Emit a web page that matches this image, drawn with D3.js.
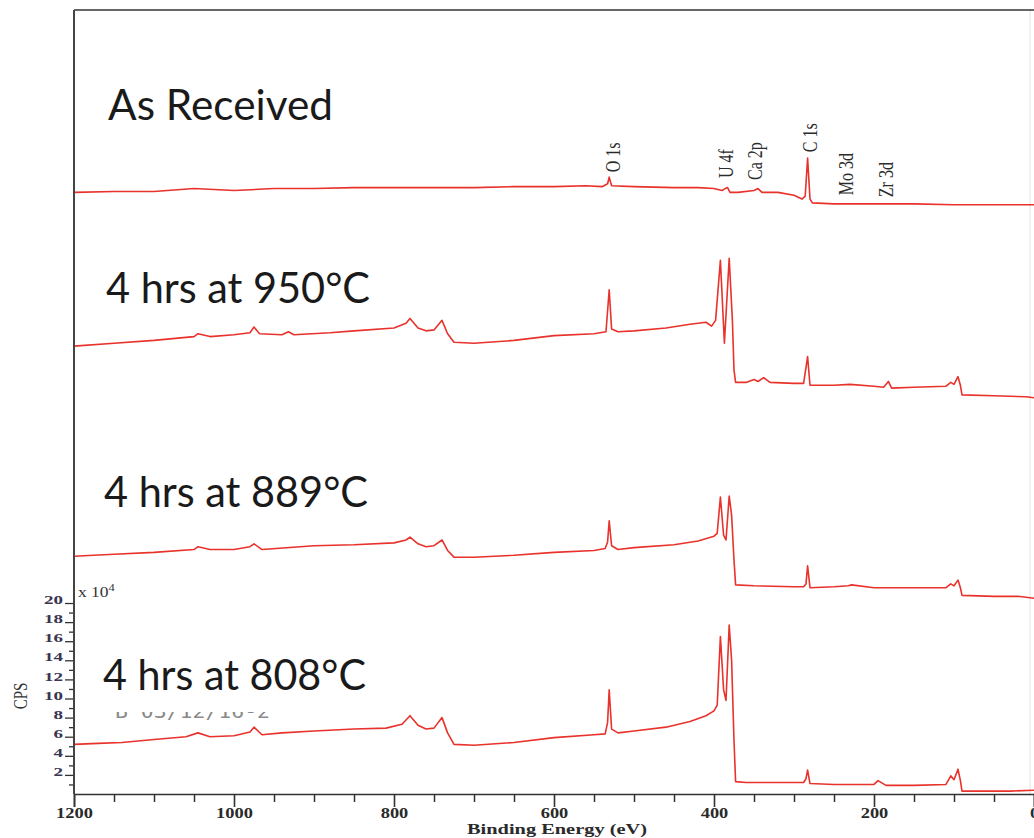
<!DOCTYPE html>
<html>
<head>
<meta charset="utf-8">
<script src="https://cdn.jsdelivr.net/npm/d3@7/dist/d3.min.js"></script>
<style>
  html, body { margin: 0; padding: 0; background: #fff; }
  svg { display: block; }
</style>
</head>
<body>
<svg id="chart" width="1034" height="838"></svg>
<script>
// ---- Data (binding energy in eV, intensity in CPS x 10^4, stacked as shown) ----
const seriesNames = ["As Received", "4 hrs at 950°C", "4 hrs at 889°C", "4 hrs at 808°C"];

const asReceived = [
  [1200,63.0],[1150,63.1],[1100,63.1],[1050,63.4],[1000,63.2],[950,63.4],[900,63.4],
  [850,63.5],[800,63.5],[750,63.5],[700,63.5],[650,63.6],[600,63.6],[560,63.7],[540,63.6],
  [533,63.9],[531,64.6],[528,63.7],[500,63.6],[450,63.5],[420,63.5],[400,63.4],[390,63.2],
  [386,63.4],[383,63.5],[380,63.0],[370,63.0],[350,63.2],[345,63.4],[340,63.0],[320,63.0],
  [300,62.7],[290,62.3],[286,62.6],[283,66.6],[280,62.3],[277,61.9],[250,61.8],[200,61.8],
  [150,61.8],[100,61.7],[50,61.7],[0,61.7]
];

const hrs950 = [
  [1200,46.9],[1150,47.2],[1100,47.5],[1050,47.9],[1045,48.2],[1030,47.9],[1000,48.1],
  [980,48.3],[975,48.9],[968,48.2],[940,48.1],[932,48.4],[925,48.1],[880,48.3],[850,48.5],
  [800,48.8],[785,49.3],[780,49.8],[770,48.8],[760,48.5],[750,48.6],[740,49.6],[733,48.2],
  [725,47.3],[700,47.2],[650,47.5],[600,48.0],[550,48.2],[535,48.4],[531,52.8],[528,48.7],
  [520,48.4],[500,48.5],[460,48.8],[430,49.2],[410,49.4],[403,49.0],[398,49.6],[392,55.9],
  [387,47.2],[381,56.1],[377,49.6],[375,44.4],[373,43.1],[360,43.1],[350,43.4],[345,43.2],
  [338,43.6],[330,43.1],[300,43.0],[288,43.0],[283,45.8],[280,42.8],[250,42.8],[230,42.9],
  [200,42.7],[188,42.6],[182,43.2],[178,42.5],[150,42.6],[110,42.7],[104,43.1],[100,42.9],
  [95,43.7],[92,42.8],[90,41.8],[50,41.7],[10,41.6],[0,41.5]
];

const hrs889 = [
  [1200,24.9],[1150,25.1],[1100,25.3],[1050,25.6],[1045,25.9],[1030,25.6],[1000,25.6],
  [980,25.9],[975,26.2],[965,25.6],[900,26.0],[850,26.1],[800,26.3],[785,26.6],[780,26.9],
  [770,26.2],[760,25.9],[750,26.0],[740,26.6],[733,25.5],[725,24.8],[700,24.8],[650,25.0],
  [600,25.3],[550,25.5],[536,25.7],[533,26.4],[531,28.6],[528,26.0],[520,25.6],[500,25.8],
  [450,26.1],[420,26.5],[400,27.0],[396,27.3],[392,31.1],[388,27.1],[385,26.6],[381,31.2],
  [378,29.2],[375,24.5],[373,21.9],[350,21.8],[300,21.7],[288,21.7],[285,22.0],[283,23.9],
  [280,21.6],[250,21.7],[232,21.8],[228,21.9],[200,21.6],[150,21.6],[110,21.6],[104,22.0],
  [100,21.8],[95,22.4],[92,21.6],[90,20.8],[50,20.7],[20,20.7],[0,20.5]
];

const hrs808 = [
  [1200,5.2],[1170,5.3],[1140,5.4],[1100,5.7],[1060,6.0],[1045,6.4],[1030,6.0],[1000,6.1],
  [980,6.5],[975,7.0],[965,6.2],[940,6.4],[900,6.6],[850,6.8],[810,6.9],[790,7.3],[780,8.2],
  [770,7.2],[760,6.8],[750,6.9],[740,8.0],[733,6.4],[725,5.2],[700,5.1],[650,5.4],[600,5.9],
  [550,6.2],[536,6.3],[533,7.5],[531,10.9],[528,6.8],[520,6.4],[500,6.6],[460,7.0],[430,7.6],
  [410,8.2],[400,8.7],[396,9.3],[392,16.5],[388,10.9],[385,9.8],[381,17.7],[378,14.0],
  [375,5.6],[373,1.3],[360,1.2],[330,1.2],[300,1.2],[288,1.2],[285,1.6],[283,2.5],[280,1.1],
  [250,1.0],[200,1.0],[195,1.4],[185,0.9],[150,0.9],[110,1.0],[104,1.9],[100,1.5],[95,2.6],
  [92,1.4],[90,0.3],[60,0.3],[30,0.3],[0,0.4]
];

const seriesData = [asReceived, hrs950, hrs889, hrs808];

const xMajorTicks = [1200, 1000, 800, 600, 400, 200, 0];
const xMinorTicks = [1150, 1100, 1050, 950, 900, 850, 750, 700, 650, 550, 500, 450, 350, 300, 250, 150, 100, 50];
const yMajorTicks = [2, 4, 6, 8, 10, 12, 14, 16, 18, 20];
const yMinorTicks = [1, 3, 5, 7, 9, 11, 13, 15, 17, 19];

const peakLabels = ["O 1s", "U 4f", "Ca 2p", "C 1s", "Mo 3d", "Zr 3d"];
// label anchor positions (energy of label baseline, intensity where the label starts)
const peakLabelE = [517, 376, 340, 271, 226, 176];
const peakLabelV = [65.1, 64.5, 64.3, 67.2, 62.7, 62.5];

// ---- Layout ----
const svg = d3.select("#chart");
const mLeft = 74, mRight = 1034, mTop = 10, mBottom = 794;
const stretch = 1.25; // horizontal stretch of the instrument-plot lettering

const x = d3.scaleLinear().domain([1200, 0]).range([mLeft, mRight]);
const y = d3.scaleLinear().domain([0, 82.1]).range([mBottom, mTop]);

svg.append("rect").attr("width", 1034).attr("height", 838).attr("fill", "#fff");

// frame
svg.append("line").attr("x1", 1030).attr("x2", 1030).attr("y1", mTop).attr("y2", mBottom)
  .attr("stroke", "#e4e4e4").attr("stroke-width", 1);
svg.append("line").attr("x1", mLeft).attr("x2", mRight).attr("y1", mTop).attr("y2", mTop)
  .attr("stroke", "#333").attr("stroke-width", 1.6);

// curves
const line = d3.line().x(d => x(d[0])).y(d => y(d[1]));
svg.append("g").selectAll("path").data(seriesData).join("path")
  .attr("d", line)
  .attr("fill", "none")
  .attr("stroke", "#e8322b")
  .attr("stroke-width", 1.6)
  .attr("stroke-linejoin", "round");

// x axis
const serif = "'Liberation Serif', 'DejaVu Serif', serif";
const xAxisG = svg.append("g").attr("transform", `translate(0,${mBottom})`)
  .call(d3.axisBottom(x).tickValues(xMajorTicks).tickSize(13).tickFormat(d3.format("d")));
xAxisG.select(".domain").attr("stroke", "#333").attr("stroke-width", 1.6);
xAxisG.selectAll(".tick line").attr("stroke", "#333").attr("stroke-width", 1.6);
xAxisG.selectAll(".tick text").attr("y", 24).attr("dy", 0)
  .attr("font-family", serif).attr("font-size", 15).attr("font-weight", "bold").attr("fill", "#2a2a2a")
  .attr("textLength", d => String(d).length * 9.2).attr("lengthAdjust", "spacingAndGlyphs");

const xMinorG = svg.append("g").attr("transform", `translate(0,${mBottom})`)
  .call(d3.axisBottom(x).tickValues(xMinorTicks).tickSize(8).tickFormat(""));
xMinorG.select(".domain").remove();
xMinorG.selectAll(".tick line").attr("stroke", "#333").attr("stroke-width", 1.5);

// y axis (CPS)
const yAxisG = svg.append("g").attr("transform", `translate(${mLeft},0)`)
  .call(d3.axisLeft(y).tickValues(yMajorTicks).tickSize(9).tickPadding(2).tickFormat(d3.format("d")));
yAxisG.select(".domain").remove();
yAxisG.selectAll(".tick line").attr("stroke", "#333").attr("stroke-width", 1.3);
yAxisG.selectAll(".tick text").attr("dy", "0.05em")
  .attr("font-family", serif).attr("font-size", 13).attr("font-weight", "bold").attr("fill", "#3a3550")
  .attr("textLength", d => String(d).length * 9.5).attr("lengthAdjust", "spacingAndGlyphs");

const yMinorG = svg.append("g").attr("transform", `translate(${mLeft},0)`)
  .call(d3.axisLeft(y).tickValues(yMinorTicks).tickSize(5).tickFormat(""));
yMinorG.select(".domain").remove();
yMinorG.selectAll(".tick line").attr("stroke", "#333").attr("stroke-width", 1.3);

svg.append("line").attr("x1", mLeft).attr("x2", mLeft).attr("y1", mTop).attr("y2", mBottom)
  .attr("stroke", "#444").attr("stroke-width", 2);

// axis titles
svg.append("text").attr("x", 557).attr("y", 834).attr("text-anchor", "middle")
  .attr("font-family", serif).attr("font-size", 15).attr("font-weight", "bold").attr("fill", "#2a2a2a")
  .attr("textLength", 180).attr("lengthAdjust", "spacingAndGlyphs")
  .text("Binding Energy (eV)");
svg.append("text").attr("transform", `translate(27,696) scale(${stretch},1) rotate(-90)`).attr("text-anchor", "middle")
  .attr("font-family", serif).attr("font-size", 15).attr("fill", "#333")
  .text("CPS");
const mult = svg.append("text").attr("transform", `translate(78,597) scale(${stretch},1)`)
  .attr("font-family", serif).attr("font-size", 14).attr("fill", "#333");
mult.append("tspan").text("x 10");
mult.append("tspan").attr("dy", -6).attr("font-size", 10).text("4");

// faint instrument stamp, mostly hidden
svg.append("text").attr("x", 115).attr("y", 718)
  .attr("font-family", "'DejaVu Sans Mono', monospace").attr("font-size", 19).attr("fill", "#8a8a8a")
  .attr("textLength", 155).attr("lengthAdjust", "spacingAndGlyphs")
  .text("B 03/12/16-2");
svg.append("rect").attr("x", 108).attr("y", 694).attr("width", 170).attr("height", 18).attr("fill", "#fff");

// peak labels
svg.append("g").selectAll("text").data(peakLabels).join("text")
  .attr("transform", (d, i) => `translate(${x(peakLabelE[i])},${y(peakLabelV[i])}) scale(${stretch},1) rotate(-90)`)
  .attr("font-family", serif).attr("font-size", 16).attr("fill", "#2b2b2b")
  .text(d => d);

// series titles
const titleX = [108, 106, 104, 103];
const titleY = [120, 303, 507, 690];
const titleW = [225, 264, 264, 263];
svg.append("g").selectAll("text").data(seriesNames).join("text")
  .attr("x", (d, i) => titleX[i]).attr("y", (d, i) => titleY[i])
  .attr("font-family", "Lato, 'Open Sans', sans-serif").attr("font-size", 43).attr("fill", "#1a1a1a")
  .attr("textLength", (d, i) => titleW[i]).attr("lengthAdjust", "spacingAndGlyphs")
  .text(d => d);
</script>
</body>
</html>
